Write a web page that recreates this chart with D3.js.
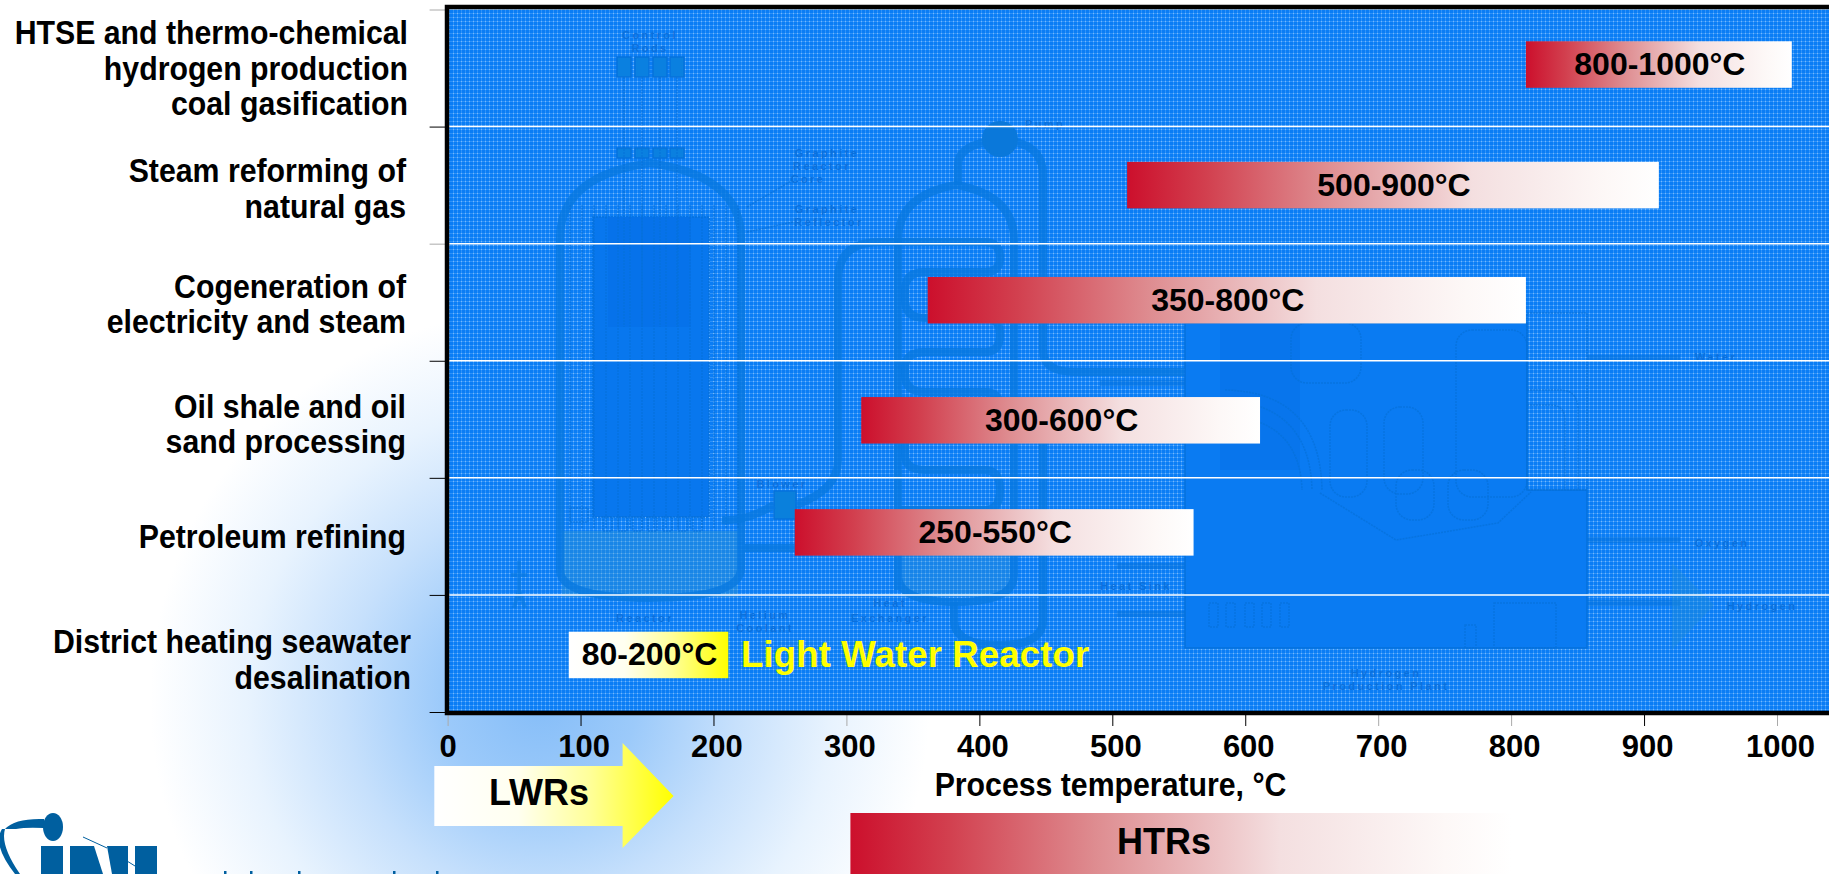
<!DOCTYPE html>
<html>
<head>
<title>Process temperature by application</title>
<meta charset="utf-8" />
<style>
html, body { margin: 0; padding: 0; background: #fff; overflow: hidden; }
svg { display: block; }
text { font-family: "Liberation Sans", Arial, sans-serif; font-weight: bold; }
.schem { fill: none; stroke: #0670d8; stroke-width: 1.5; stroke-opacity: .7; stroke-dasharray: 2 1; }
.schem-thick { fill: none; stroke: #0778e0; stroke-width: 8; stroke-opacity: .8; }
.schem-solid { fill: #0a7bf2; stroke: #0672dc; stroke-width: 1.5; }
.schem-text { fill: #0a70dc; font-size: 11px; letter-spacing: 2.4px; text-anchor: middle; }
</style>
</head>
<body>
<script src="https://cdn.jsdelivr.net/npm/d3@7"></script>
<script>
// categories top to bottom, each one split in its printed lines
var categories = ["HTSE", "Steam reforming", "Cogeneration", "Oil shale", "Petroleum", "District heating"];
var categoryLines = [
    ["HTSE and thermo-chemical", "hydrogen production", "coal gasification"],
    ["Steam reforming of", "natural gas"],
    ["Cogeneration of", "electricity and steam"],
    ["Oil shale and oil", "sand processing"],
    ["Petroleum refining"],
    ["District heating seawater", "desalination"]
];
var rangeLow = [800, 500, 350, 300, 250, 80];
var rangeHigh = [1000, 900, 800, 600, 550, 200];
var rangeLabels = ["800-1000°C", "500-900°C", "350-800°C", "300-600°C", "250-550°C", "80-200°C"];
var tempTicks = [0, 100, 200, 300, 400, 500, 600, 700, 800, 900, 1000];
var lwrSpan = [-10, 170];
var htrSpan = [303, 800];

var width = 1829, height = 874;
var plot = {left: 447.6, right: 1829, top: 9.5, bottom: 712};

var svg = d3.select("body").append("svg")
    .attr("width", width)
    .attr("height", height);
var defs = svg.append("defs");

function gradient(id, stops) {
    var g = defs.append("linearGradient").attr("id", id);
    stops.forEach(function(s) {
        g.append("stop").attr("offset", s[0]).attr("stop-color", s[1]);
    });
}
gradient("redFade", [[0, "#cc0f2c"], [.15, "#d2404f"], [.37, "#de8c90"], [.65, "#f4dfe0"], [.9, "#fdf8f7"], [1, "#ffffff"]]);
gradient("yellowFade", [[0, "#ffffff"], [.35, "#fffff0"], [.65, "#ffff99"], [1, "#ffff00"]]);

var glow = defs.append("radialGradient").attr("id", "glow")
    .attr("gradientUnits", "userSpaceOnUse")
    .attr("cx", 540).attr("cy", 700).attr("r", 390);
[[0, "#85bdf8"], [.25, "#9ccafa"], [.5, "#c6e0fc"], [.75, "#e8f3fe"], [1, "#ffffff"]].forEach(function(s) {
    glow.append("stop").attr("offset", s[0]).attr("stop-color", s[1]);
});

var weave = defs.append("pattern").attr("id", "weave")
    .attr("patternUnits", "userSpaceOnUse")
    .attr("width", 4).attr("height", 4);
weave.append("rect").attr("width", 4).attr("height", 4).attr("fill", "#0a7df5");
weave.append("rect").attr("x", 1).attr("width", 1).attr("height", 4).attr("fill", "#2f92f8");
weave.append("rect").attr("y", 1).attr("width", 4).attr("height", 1).attr("fill", "#2f92f8");
weave.append("rect").attr("x", 1).attr("y", 1).attr("width", 1).attr("height", 1).attr("fill", "#75b8fc");

// scales: the bars sit a little to the right of the printed axis in the source
var x = d3.scaleLinear().domain([0, 1000]).range([447.6, 1777]);
var barShift = 14.8;
var yBand = d3.scaleBand().domain(categories).range([plot.top, plot.bottom]);
var yEdge = d3.scaleLinear().domain([0, 6]).range([plot.top, plot.bottom]);

// backdrop
svg.append("rect").attr("width", width).attr("height", height).attr("fill", "#fff");
svg.append("rect").attr("y", 300).attr("width", width).attr("height", height - 300).attr("fill", "url(#glow)");
svg.append("rect")
    .attr("x", plot.left).attr("y", plot.top)
    .attr("width", plot.right - plot.left).attr("height", plot.bottom - plot.top)
    .attr("fill", "url(#weave)");

drawSchematic(svg.append("g"));

// row separators
svg.append("g").selectAll("line")
    .data([1, 2, 3, 4, 5])
    .join("line")
    .attr("x1", plot.left).attr("x2", plot.right)
    .attr("y1", function(d) { return yEdge(d); })
    .attr("y2", function(d) { return yEdge(d); })
    .attr("stroke", "#fff").attr("stroke-width", 1.5);

// axes
var tickGrey = [true, false, false, true, false, false, false, true, true, false, true];
var xAxis = svg.append("g")
    .attr("transform", "translate(0," + plot.bottom + ")")
    .call(d3.axisBottom(x).tickValues(tempTicks).tickSize(14).tickPadding(9).tickFormat(d3.format("d")));
xAxis.select(".domain").remove();
xAxis.selectAll("line").attr("stroke", function(d, i) { return tickGrey[i] ? "#aaa" : "#000"; }).attr("stroke-width", 1);
xAxis.selectAll("text")
    .attr("fill", "#000")
    .attr("x", function(d) { return d === 0 ? 0 : 3; })
    .style("font-size", "31px")
    .style("font-family", "'Liberation Sans', Arial, sans-serif");

var yAxis = svg.append("g")
    .attr("transform", "translate(" + plot.left + ",0)")
    .call(d3.axisLeft(yEdge).tickValues([0, 1, 2, 3, 4, 5, 6]).tickSize(18).tickFormat(""));
yAxis.select(".domain").remove();
yAxis.selectAll("line").attr("stroke", function(d) { return d === 0 || d === 2 ? "#aaa" : "#000"; }).attr("stroke-width", 1);

// category labels, condensed like the original slide text
var labelRight = [408, 406, 406, 406, 406, 411];
var labelShift = [11.5, 15, 13.5, 16, 12, 17.5];
categoryLines.forEach(function(lines, i) {
    var mid = yBand(categories[i]) + yBand.bandwidth() / 2 + labelShift[i];
    lines.forEach(function(line, j) {
        var yy = mid + (j - (lines.length - 1) / 2) * 35.5;
        condensed(line, labelRight[i], yy, "end");
    });
});
function condensed(str, xx, yy, anchor) {
    svg.append("text")
        .attr("transform", "translate(" + xx + "," + yy + ") scale(.89,1)")
        .attr("text-anchor", anchor)
        .style("font-size", "34px")
        .attr("fill", "#000")
        .text(str);
}
condensed("Process temperature, °C", 1110.5, 796, "middle");

// range bars
var barHeight = 46.5;
var barShiftY = [-3.5, 0, -2, 1, -4, 1.5];
var rows = categories.map(function(c, i) {
    return {cat: c, low: rangeLow[i], high: rangeHigh[i], label: rangeLabels[i], nudge: barShiftY[i]};
});
function barMid(d) { return yBand(d.cat) + yBand.bandwidth() / 2 + d.nudge; }

svg.append("g").selectAll("rect")
    .data(rows)
    .join("rect")
    .attr("x", function(d) { return x(d.low) + barShift; })
    .attr("width", function(d) { return x(d.high) - x(d.low); })
    .attr("y", function(d) { return barMid(d) - barHeight / 2; })
    .attr("height", barHeight)
    .attr("fill", function(d) { return d.low < 100 ? "url(#yellowFade)" : "url(#redFade)"; });

svg.append("g").selectAll("text")
    .data(rows)
    .join("text")
    .attr("x", function(d) { return (x(d.low) + x(d.high)) / 2 + barShift + 1; })
    .attr("y", function(d) { return barMid(d) + 10.5; })
    .attr("text-anchor", "middle")
    .style("font-size", "32px")
    .attr("fill", "#000")
    .text(function(d) { return d.label; });

svg.append("text")
    .attr("x", 741).attr("y", 667)
    .style("font-size", "36.8px")
    .attr("fill", "#ffff00")
    .text("Light Water Reactor");

// plot frame sits on top of bars and lines
var frame = d3.path();
frame.moveTo(plot.right, 7);
frame.lineTo(447, 7);
frame.lineTo(447, 713);
frame.lineTo(plot.right, 713);
svg.append("path").attr("d", frame.toString())
    .attr("fill", "none").attr("stroke", "#000").attr("stroke-width", 4.5);

// LWR arrow
var lwrLeft = x(lwrSpan[0]), lwrTip = x(lwrSpan[1]), lwrHead = lwrTip - 51;
svg.append("path")
    .attr("d", d3.line()([[lwrLeft, 766], [lwrHead, 766], [lwrHead, 743], [lwrTip, 796], [lwrHead, 848], [lwrHead, 826], [lwrLeft, 826]]) + "Z")
    .attr("fill", "url(#yellowFade)");
svg.append("text").attr("x", 539).attr("y", 805).attr("text-anchor", "middle")
    .style("font-size", "36px").attr("fill", "#000").text("LWRs");

// HTR band
svg.append("rect")
    .attr("x", x(htrSpan[0])).attr("y", 813)
    .attr("width", x(htrSpan[1]) - x(htrSpan[0])).attr("height", height - 813)
    .attr("fill", "url(#redFade)");
svg.append("text").attr("x", 1164).attr("y", 854).attr("text-anchor", "middle")
    .style("font-size", "36px").attr("fill", "#000").text("HTRs");

drawLogo(svg.append("g"));

// faint reactor and hydrogen plant drawing behind the bars
function drawSchematic(g) {
    function p(d, cls) { return g.append("path").attr("d", d).attr("class", cls || "schem"); }
    function r(x0, y0, w, h, cls) {
        return g.append("rect").attr("x", x0).attr("y", y0).attr("width", w).attr("height", h).attr("class", cls || "schem");
    }
    function t(str, xx, yy) { g.append("text").attr("x", xx).attr("y", yy).attr("class", "schem-text").text(str); }

    // reactor vessel
    r(562, 531, 176, 66).attr("style", "fill:#3f9ac8;fill-opacity:.3;stroke:none");
    p("M560,570 V238 Q560,176 650,163 Q741,176 741,238 V568 Q741,598 650,598 Q560,598 560,570 Z", "schem-thick");
    r(593, 217, 116, 300, "schem-solid").attr("style", "fill:#0877ee;stroke-dasharray:2 1");
    r(608, 217, 83, 110).attr("style", "fill:#0672ea;stroke:none");
    d3.range(570, 740, 12).forEach(function(xx) { p("M" + xx + ",205 V529"); });
    d3.range(603, 705, 15).forEach(function(xx) { r(xx, 517, 9, 14); });
    [624, 642, 660, 677].forEach(function(xx) {
        r(xx - 7, 57, 14, 20, "schem-solid").attr("style", "fill:#0a80e0");
        r(xx - 7, 148, 14, 10, "schem-solid").attr("style", "fill:#0a80e0");
        p("M" + xx + ",77 V327");
    });
    p("M747,207 L793,180");
    p("M747,232 L793,222");
    r(570, 508, 18, 14);

    // person
    p("M519,561 V600 M511,575 H527 M514,608 L519,590 L525,608", "schem-thick").attr("style", "stroke-width:4;stroke-opacity:.6");

    // blower and duct
    r(774, 491, 22, 28, "schem-solid").attr("style", "fill:#0a80dc");
    p("M722,520 Q745,522 774,505 M796,505 Q838,490 838,460 V280 Q838,242 880,242 H985 Q1000,242 1000,258 Q1000,272 985,272 H925 Q905,272 905,290 V300 Q905,318 925,318 H985 Q1000,318 1000,335 Q1000,352 985,352 H925 Q905,352 905,368 V375 Q905,392 925,392 H985 Q1000,392 1000,408 Q1000,430 985,430 H925 Q905,430 905,445 V455 Q905,470 925,470 H985 Q1000,470 1000,490 Q1000,510 985,510 H900", "schem-thick");
    p("M745,548 H800", "schem-thick");

    // heat exchanger
    r(902, 531, 108, 66).attr("style", "fill:#3f9ac8;fill-opacity:.25;stroke:none");
    p("M898,590 V240 Q898,195 956,185 Q1014,195 1014,240 V575 Q1014,602 956,602 Q898,602 898,575 Z", "schem-thick");
    p("M958,185 V165 Q958,148 985,142 M1015,142 Q1043,148 1043,175 V350 Q1043,372 1075,372 H1184", "schem-thick");
    p("M1043,440 V620 Q1043,645 1000,645 Q954,645 954,620 V602", "schem-thick");
    g.append("circle").attr("cx", 1000).attr("cy", 139).attr("r", 18).attr("fill", "#0a78da");

    // hydrogen plant
    p("M1185,323 H1527 V490 H1587 V648 H1185 Z", "schem-solid");
    r(1527, 313, 60, 177);
    r(1220, 323, 80, 147).attr("style", "fill:#0875ec;stroke:none");
    p("M1225,400 Q1310,405 1312,490 M1225,390 Q1320,392 1322,490 M1225,415 Q1300,420 1302,490");
    [[1291, 323, 70, 60], [1330, 410, 37, 87], [1384, 407, 39, 87], [1456, 330, 71, 167]].forEach(function(v) {
        r(v[0], v[1], v[2], v[3]).attr("rx", 16);
    });
    r(1396, 470, 38, 50).attr("rx", 16);
    r(1448, 470, 40, 50).attr("rx", 16);
    p("M1320,493 L1396,540 L1498,523 L1531,492");
    p("M1527,390 H1560 Q1578,390 1578,410 V490 M1527,405 H1550 Q1565,405 1565,420 V490");
    [1209, 1226, 1245, 1262, 1280].forEach(function(xx) { r(xx, 603, 9, 24); });
    r(1494, 603, 62, 45);
    r(1465, 625, 11, 23);

    // pipes leaving the plant
    [[1587, 355, 93], [1587, 537, 93], [1587, 600, 93], [1117, 563, 68], [1117, 611, 68], [1100, 380, 85]].forEach(function(v) {
        r(v[0], v[1], v[2], 6).attr("style", "fill:#0672dc;stroke:none;fill-opacity:.55");
    });
    p("M1672,563 L1714,605 L1672,650 Z").attr("style", "fill:#1d8bd8;fill-opacity:.4;stroke:none");

    t("Control", 650, 39); t("Rods", 650, 52);
    t("Graphite", 827, 157); t("Reactor", 822, 170); t("Core", 808, 183);
    t("Graphite", 827, 213); t("Reflector", 829, 226);
    t("Blower", 782, 488);
    t("Pump", 1045, 128);
    t("Reactor", 645, 622);
    t("Helium", 765, 619); t("Coolant", 765, 632);
    t("Heat", 890, 607); t("Exchanger", 890, 622);
    t("Water", 1716, 361);
    t("Oxygen", 1722, 547);
    t("Hydrogen", 1762, 610);
    t("Heat Sink", 1136, 590);
    t("Hydrogen", 1386, 677); t("Production Plant", 1386, 690);
}

// top of the institute logo, cut by the lower edge of the slide
function drawLogo(g) {
    var blue = "#005f9f";
    g.append("ellipse").attr("cx", 53).attr("cy", 827).attr("rx", 10).attr("ry", 14).attr("fill", blue);
    g.append("path").attr("fill", blue)
        .attr("d", "M44,819 Q15,818 5,829 Q0,845 20,874 L15,874 Q-8,845 2,829 Q12,829 16,829 Q26,827 44,828 Z");
    g.append("rect").attr("x", 41).attr("y", 846).attr("width", 22).attr("height", 28).attr("fill", blue);
    g.append("path").attr("fill", blue).attr("d", "M70,846 H94 L103,874 H70 Z");
    g.append("path").attr("fill", blue).attr("d", "M107,846 H128 V874 H112 Z");
    g.append("rect").attr("x", 135).attr("y", 846).attr("width", 22).attr("height", 28).attr("fill", blue);
    g.append("path").attr("d", "M83,837 L107,848 M127,861 L135,866").attr("stroke", blue).attr("stroke-width", 1).attr("fill", "none");
    [224, 250, 298, 393, 436].forEach(function(xx) {
        g.append("rect").attr("x", xx).attr("y", 871).attr("width", 2.5).attr("height", 3).attr("fill", blue);
    });
}
</script>
</body>
</html>
